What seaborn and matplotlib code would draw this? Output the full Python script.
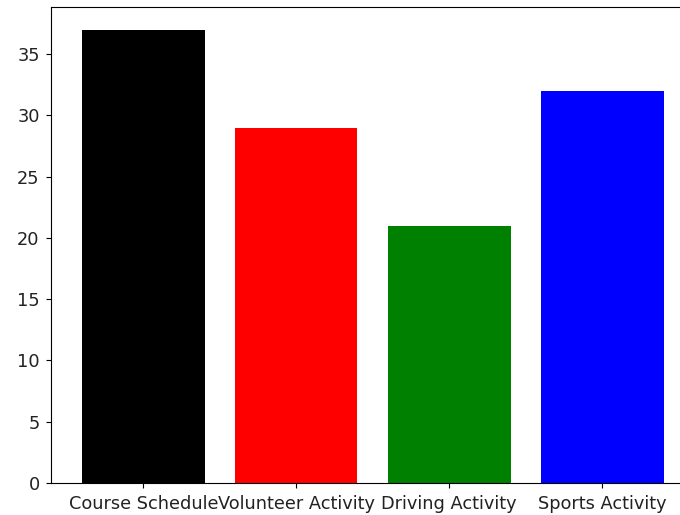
import matplotlib
matplotlib.use("Agg")
import matplotlib.pyplot as plt
import seaborn as sns
import pandas as pd

categories = ["Course Schedule", "Volunteer Activity", "Driving Activity", "Sports Activity"]
values = [37, 29, 21, 32]
colors = ["black", "red", "green", "blue"]

df = pd.DataFrame({"category": categories, "value": values})

fig = plt.figure(figsize=(6.8, 5.15), dpi=100)
ax = fig.add_axes([51.5 / 680, 32 / 515, 4.2 * 153 / 680, (483 - 7) / 515])
sns.barplot(data=df, x="category", y="value", hue="category", palette=colors,
            width=0.8, saturation=1, legend=False, ax=ax)
ax.set_xlim(-0.6, 3.6)
ax.set_ylim(0, 38.85)
ax.set_xlabel("")
ax.set_ylabel("")
ax.tick_params(axis="both", labelsize=12.8, labelcolor="#222222", pad=5)
for sp in ax.spines.values():
    sp.set_visible(True)
    sp.set_color("black")
fig.savefig("out.png", dpi=100)
